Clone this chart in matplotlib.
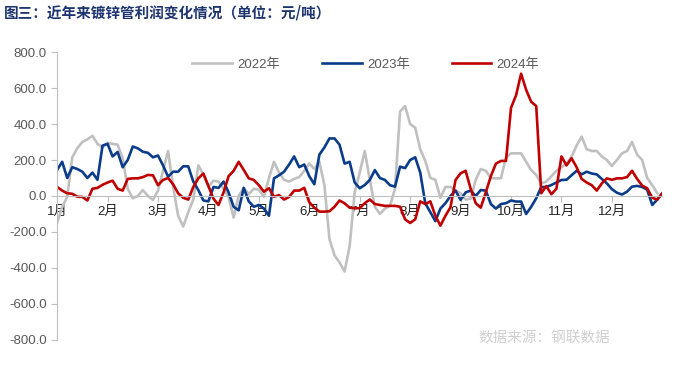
import numpy as np
import matplotlib
matplotlib.use("Agg")
import matplotlib.pyplot as plt
from matplotlib.ticker import FuncFormatter

plt.rcParams['font.family'] = ['Liberation Sans', 'Noto Sans CJK SC', 'DejaVu Sans']

# profit by trading-day slot (about 10 slots per month), yuan/ton
profit_2022 = [
    -150, -60, -5, 215, 265, 300, 315, 335, 290, 270,
    295, 290, 285, 210, 40, -13, 0, 33, 0, -22,
    30, 140, 250, 50, -110, -170, -90, -20, 170, 120,
    52, 85, 80, 40, -5, -120, 0, 45, 10, 40,
    35, -4, 100, 190, 130, 90, 80, 95, 105, 140,
    180, 150, 190, 60, -240, -330, -370, -420, -280, 20,
    130, 250, 90, -60, -100, -70, -55, 40, 470, 500,
    400, 380, 260, 195, 100, 90, -10, 50, 50, 30,
    15, -20, -15, 90, 150, 140, 100, 98, 98, 215,
    237, 237, 237, 190, 144, 117, 70, 80, 110, 140,
    160, 180, 218, 280, 330, 260, 250, 250, 220, 200,
    167, 200, 237, 250, 300, 230, 200, 100, 60, 15,
    np.nan,
]
profit_2023 = [
    145, 190, 100, 160, 150, 135, 100, 130, 90, 280,
    290, 220, 245, 160, 200, 275, 265, 246, 240, 215,
    225, 170, 107, 135, 135, 165, 165, 80, 33, -25,
    -30, 50, 45, 80, 20, -60, -80, 45, -30, -60,
    -50, -70, -110, 98, 115, 135, 175, 220, 160, 175,
    110, 65, 230, 270, 320, 320, 285, 180, 190, 75,
    43, 61, 89, 144, 100, 89, 60, 52, 163, 155,
    200, 215, 130, -41, -90, -140, -70, -40, 0, 30,
    -22, 20, 30, 0, 33, 30, -45, -70, -45, -40,
    -25, -31, -31, -100, -60, -13, 50, 50, 61, 75,
    89, 90, 115, 140, 120, 135, 125, 120, 95, 70,
    38, 18, 8, 24, 52, 56, 50, 35, -50, -20,
    15,
]
profit_2024 = [
    50, 30, 15, 12, -4, -5, -25, 40, 45, 62,
    75, 85, 40, 30, 95, 98, 98, 105, 117, 115,
    60, 89, 100, 65, 15, -10, -20, 50, 98, 125,
    55, -15, -50, 20, 110, 140, 190, 145, 98, 89,
    60, 24, 43, -4, 5, -20, -5, 30, 30, 45,
    -35, -65, -87, -87, -85, -60, -25, -41, -65, -68,
    -68, -40, -20, -45, -50, -55, -55, -55, -60, -130,
    -150, -130, -30, -45, -30, -110, -165, -110, -62, 89,
    126, 140, 40, -40, -65, 20, 110, 180, 195, 195,
    490, 560, 680, 590, 524, 500, 15, 55, 10, 40,
    220, 170, 210, 160, 95, 75, 60, 30, 70, 98,
    90, 98, 98, 105, 140, 95, 58, 43, -10, -20,
    15,
]
series_names = ['2022年', '2023年', '2024年']
series_colors = ['#C0C0C0', '#0A3C8A', '#C00000']
month_labels = ['1月', '2月', '3月', '4月', '5月', '6月',
                '7月', '8月', '9月', '10月', '11月', '12月']

fig = plt.figure(figsize=(6.8, 3.67), dpi=100)
ax = fig.add_axes([0.084, 0.074, 0.89, 0.784])

x = np.arange(len(profit_2022))
for vals, name, col in zip([profit_2022, profit_2023, profit_2024], series_names, series_colors):
    ax.plot(x, vals, color=col, lw=1.9, label=name, solid_joinstyle='round')

ax.set_ylim(-800, 800)
ax.set_xlim(0, 120)
ax.set_yticks(np.arange(-800, 801, 200))
ax.yaxis.set_major_formatter(FuncFormatter(lambda v, p: f"{v:.1f}"))

ax.spines['top'].set_visible(False)
ax.spines['right'].set_visible(False)
ax.spines['left'].set_color('#BFBFBF')
ax.spines['bottom'].set_color('#BFBFBF')
ax.spines['bottom'].set_position(('data', 0))
ax.tick_params(axis='y', colors='#BFBFBF', labelcolor='#595959', labelsize=9.5, length=4, width=0.8)
ax.tick_params(axis='x', colors='#BFBFBF', labelcolor='#222222', labelsize=9.5, length=4, width=0.8, pad=3)
ax.set_xticks(np.arange(0, 120, 10))
ax.set_xticklabels(month_labels)

ax.legend(loc='upper center', bbox_to_anchor=(0.51, 1.02), ncol=3, frameon=False,
          fontsize=9.5, handlelength=3.0, columnspacing=3.2, handletextpad=0.4,
          labelcolor='#595959')

fig.text(0.006, 0.965, '图三：近年来镀锌管利润变化情况（单位：元/吨）', fontsize=10.5,
         fontweight='bold', color='#1F3570', va='center', ha='left',
         family=['Noto Sans CJK SC', 'DejaVu Sans'])
fig.text(0.703, 0.078, '数据来源：钢联数据', fontsize=10.5, color='#D0D0D0',
         va='center', ha='left', family=['Noto Sans CJK SC', 'DejaVu Sans'])

fig.savefig('out.png', dpi=100)
